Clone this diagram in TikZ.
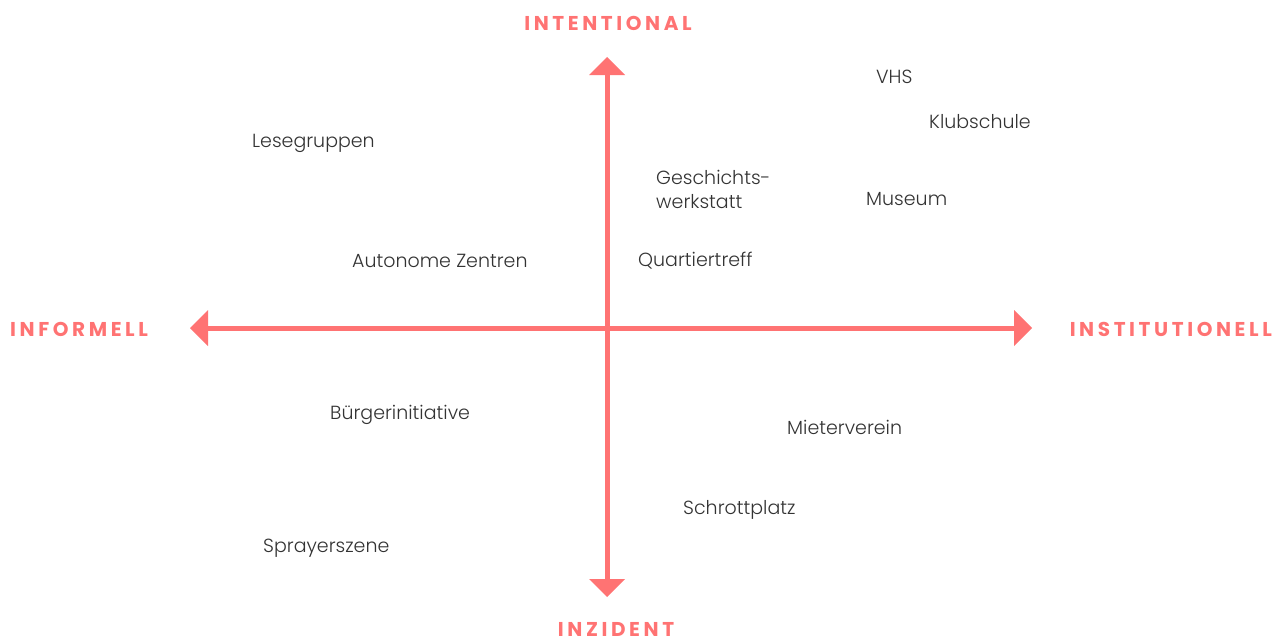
\documentclass[tikz,border=0pt]{standalone}
\usepackage{fontspec}
\setmainfont{Poppins}[UprightFont=* Light]
\newfontfamily\axisfont[LetterSpace=18]{Poppins}
\definecolor{coral}{HTML}{FF7373}
\definecolor{txt}{HTML}{333333}
\begin{document}
\begin{tikzpicture}[x=1pt,y=-1pt,
  lbl/.style={anchor=west,inner sep=0pt,yshift=-2pt,text=txt,font=\fontsize{19}{24}\selectfont,align=left},
  axlbl/.style={inner sep=0pt,text=coral,font=\axisfont\bfseries\fontsize{20}{22}\selectfont},
  axline/.style={draw=coral,line width=5pt},
  head/.style={fill=coral}]
\useasboundingbox (0,0) rectangle (1281,642);
% axes
\coordinate (L) at (208,328);
\coordinate (R) at (1014,328);
\coordinate (T) at (607,75);
\coordinate (B) at (607,579);
\draw[axline] (L) -- (R);
\draw[axline] (T) -- (B);
\fill[head] (190,328) -- (208,310) -- (208,346) -- cycle;
\fill[head] (1032,328) -- (1014,310) -- (1014,346) -- cycle;
\fill[head] (607,57) -- (589,75) -- (625,75) -- cycle;
\fill[head] (607,597) -- (589,579) -- (625,579) -- cycle;
% axis labels
\node[axlbl] (intentional) at (608,23) {INTENTIONAL};
\node[axlbl,anchor=west] (informell) at (10,329) {INFORMELL};
\node[axlbl,anchor=east] (institutionell) at (1272,329) {INSTITUTIONELL};
\node[axlbl] (inzident) at (616,629) {INZIDENT};
% items
\node[lbl] (vhs) at (876,75) {VHS};
\node[lbl] (klub) at (929,120) {Klubschule};
\node[lbl] (lese) at (252,141) {Lesegruppen};
\node[lbl,yshift=2pt] (gesch) at (656,189.5) {Geschichts-\\werkstatt};
\node[lbl] (museum) at (866,197) {Museum};
\node[lbl] (auto) at (352,259) {Autonome Zentren};
\node[lbl] (quart) at (638,259) {Quartiertreff};
\node[lbl] (buerger) at (330,413) {Bürgerinitiative};
\node[lbl] (mieter) at (787,425) {Mieterverein};
\node[lbl] (schrott) at (683,508) {Schrottplatz};
\node[lbl] (spray) at (263,546) {Sprayerszene};
\end{tikzpicture}
\end{document}
